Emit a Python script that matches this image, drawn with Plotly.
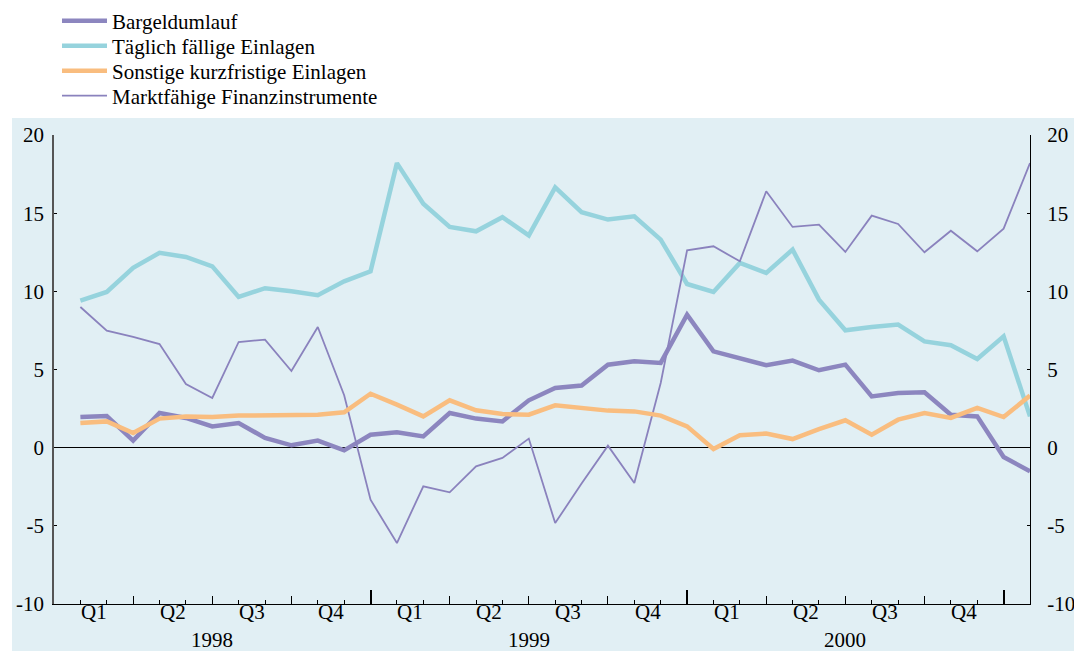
import plotly.graph_objects as go

# Monthly observations Jan 1998 .. Jan 2001 (index 1..37)
months = list(range(1, 38))

bargeld = [1.96, 2.03, 0.45, 2.22, 1.90, 1.36, 1.58, 0.62, 0.15, 0.45, -0.17, 0.83,
           0.98, 0.72, 2.22, 1.86, 1.68, 3.03, 3.82, 3.97, 5.31, 5.52, 5.42, 8.51,
           6.16, 5.74, 5.27, 5.57, 4.95, 5.31, 3.28, 3.50, 3.54, 2.11, 2.00, -0.60,
           -1.51]

taeglich = [9.40, 9.96, 11.50, 12.46, 12.20, 11.60, 9.64, 10.20, 10.00, 9.75, 10.64, 11.28,
            18.20, 15.60, 14.12, 13.84, 14.74, 13.58, 16.65, 15.06, 14.59, 14.80, 13.31, 10.47,
            9.96, 11.82, 11.18, 12.67, 9.47, 7.51, 7.72, 7.87, 6.80, 6.55, 5.67, 7.12,
            2.00]

sonstige = [1.58, 1.68, 0.94, 1.86, 2.00, 1.96, 2.05, 2.07, 2.15, 2.11, 2.26, 3.45,
            2.75, 2.00, 3.03, 2.39, 2.15, 2.11, 2.71, 2.54, 2.37, 2.32, 2.05, 1.36,
            -0.09, 0.79, 0.90, 0.55, 1.19, 1.75, 0.83, 1.79, 2.22, 1.90, 2.54, 1.96,
            3.33]

marktfaehig = [9.00, 7.49, 7.08, 6.63, 4.07, 3.18, 6.76, 6.91, 4.90, 7.72, 3.35, -3.33,
               -6.10, -2.47, -2.86, -1.19, -0.66, 0.58, -4.82, -2.30, 0.13, -2.26, 4.14, 12.62,
               12.88, 11.92, 16.40, 14.12, 14.27, 12.52, 14.84, 14.31, 12.50, 13.88, 12.56, 14.01,
               18.21]

series_names = ["Bargeldumlauf", "Täglich fällige Einlagen",
                "Sonstige kurzfristige Einlagen", "Marktfähige Finanzinstrumente"]

quarter_labels = ["Q1", "Q2", "Q3", "Q4"]
years = ["1998", "1999", "2000"]
y_ticks = [-10, -5, 0, 5, 10, 15, 20]
y_ticktext = ["-10", "-5", "0", "5", "10", "15", "20"]

BG = "#e1eff4"
FONT = "Liberation Serif"
FS = 21
PURPLE = "#8c86bf"
PURPLE_THIN = "#8a82bd"
CYAN = "#96d3dd"
ORANGE = "#f9bd7f"

W, H = 1074, 651
ML, MR, MT, MB = 54, 44, 135, 47
PW, PH = W - ML - MR, H - MT - MB

fig = go.Figure()
fig.add_trace(go.Scatter(x=months, y=bargeld, name=series_names[0], mode="lines",
                         legend="legend", line=dict(color=PURPLE, width=4.5)))
fig.add_trace(go.Scatter(x=months, y=taeglich, name=series_names[1], mode="lines",
                         legend="legend2", line=dict(color=CYAN, width=4.5)))
fig.add_trace(go.Scatter(x=months, y=sonstige, name=series_names[2], mode="lines",
                         legend="legend3", xaxis="x2", line=dict(color=ORANGE, width=4.5)))
fig.add_trace(go.Scatter(x=months, y=marktfaehig, name=series_names[3], mode="lines",
                         legend="legend4", yaxis="y2", line=dict(color=PURPLE_THIN, width=1.8)))

xr = [0, 37]
quarter_ticks = [q for q in range(3, 37, 3) if q % 12 != 0]
minor_ticks = [m for m in range(1, 37) if m % 3 != 0]
year_ticks = [0, 12, 24, 36]

annotations = []
for k in range(12):
    annotations.append(dict(x=1.5 + 3 * k, y=-0.018, xref="x", yref="paper",
                            text=quarter_labels[k % 4], showarrow=False,
                            yanchor="middle", xanchor="center",
                            font=dict(family=FONT, size=FS, color="black")))
for k, yr in enumerate(years):
    annotations.append(dict(x=6 + 12 * k, y=-0.077, xref="x", yref="paper",
                            text=yr, showarrow=False, yanchor="middle", xanchor="center",
                            font=dict(family=FONT, size=FS, color="black")))


def legend_at(ypix):
    return dict(x=(57 - ML) / PW, xref="paper", y=(H - MB - ypix) / PH, yref="paper",
                xanchor="left", yanchor="middle", bgcolor="rgba(0,0,0,0)",
                font=dict(family=FONT, size=FS, color="black"), itemwidth=45,
                borderwidth=0)


fig.update_layout(
    template="none",
    width=W, height=H,
    autosize=False,
    margin=dict(l=ML, r=MR, t=MT, b=MB, pad=0, autoexpand=False),
    paper_bgcolor="white",
    plot_bgcolor=BG,
    font=dict(family=FONT, size=FS, color="black"),
    showlegend=True,
    legend=legend_at(21),
    legend2=legend_at(46),
    legend3=legend_at(71),
    legend4=legend_at(96),
    xaxis=dict(range=xr, showgrid=False, zeroline=False, showline=True, automargin=False,
               linecolor="black", linewidth=1,
               tickmode="array", tickvals=quarter_ticks, ticks="inside", ticklen=8,
               tickcolor="black", showticklabels=False,
               minor=dict(tickmode="array", tickvals=minor_ticks, ticks="inside",
                          ticklen=4, tickcolor="black", showgrid=False)),
    xaxis2=dict(range=xr, overlaying="x", anchor="y", side="bottom", showgrid=False,
                automargin=False, zeroline=False, showline=False, tickmode="array",
                tickvals=year_ticks, ticks="inside", ticklen=14, tickwidth=1.5,
                tickcolor="black", showticklabels=False),
    yaxis=dict(range=[-10, 20], tickmode="array", tickvals=y_ticks, ticktext=y_ticktext,
               showgrid=False, automargin=False,
               zeroline=True, zerolinecolor="black", zerolinewidth=1,
               showline=True, linecolor="#555555", linewidth=1.5,
               ticks="inside", ticklen=3, tickcolor="black",
               ticklabelstandoff=4, tickfont=dict(family=FONT, size=FS, color="black")),
    yaxis2=dict(range=[-10, 20], tickmode="array", tickvals=y_ticks, ticktext=y_ticktext,
                overlaying="y", side="right", automargin=False,
                anchor="x", showgrid=False, zeroline=False,
                showline=True, linecolor="black", linewidth=1,
                ticks="inside", ticklen=3, tickcolor="black",
                ticklabelstandoff=12, tickfont=dict(family=FONT, size=FS, color="black")),
    annotations=annotations,
    shapes=[dict(type="rect", xref="paper", yref="paper",
                 x0=-0.043, x1=1.06, y0=-0.12, y1=1.036,
                 fillcolor=BG, line=dict(width=0), layer="below")],
)

fig.write_html("out.html", config={"displayModeBar": False},
               post_script="document.body.style.margin='0';document.body.style.overflow='hidden';")
